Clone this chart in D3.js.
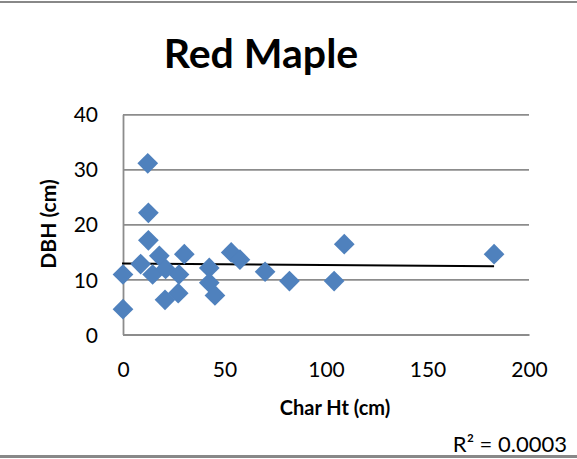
<!DOCTYPE html>
<html>
<head>
<meta charset="utf-8">
<script src="https://cdn.jsdelivr.net/npm/d3@7"></script>
<style>
  body { margin: 0; background: #fff; }
  text { font-family: Lato, "Open Sans", sans-serif; fill: #000; }
</style>
</head>
<body>
<svg></svg>
<script>
// DATA
let charHt = [12.2, 12.5, 12.5, 17.9, 30.2, 8.7, 0, 0, 14.6, 21, 27.6, 27.2, 20.7,
  42.5, 42.5, 45.3, 53.3, 57.6, 70, 82, 104, 109, 182.8]
let dbh = [31.1, 22.1, 17.1, 14.3, 14.6, 12.8, 10.9, 4.6, 10.9, 11.9, 10.9, 7.5, 6.3,
  12.1, 9.4, 7.1, 14.9, 13.6, 11.4, 9.7, 9.7, 16.4, 14.6]
let xTicks = [0, 50, 100, 150, 200]
let yTicks = [0, 10, 20, 30, 40]
let title = "Red Maple"
let xTitle = "Char Ht (cm)"
let yTitle = "DBH (cm)"
let r2Label = "R² = 0.0003"

let svgWidth = 577
let svgHeight = 459

// THE CONTAINER
let svg = d3.select("svg")
  .attr("width", svgWidth)
  .attr("height", svgHeight)

// chart border (top and bottom edges visible)
svg.append("line")
  .attr("x1", 0).attr("x2", svgWidth)
  .attr("y1", 2).attr("y2", 2)
  .attr("stroke", "#888").attr("stroke-width", 2)
svg.append("line")
  .attr("x1", 0).attr("x2", svgWidth)
  .attr("y1", 456.5).attr("y2", 456.5)
  .attr("stroke", "#888").attr("stroke-width", 3)

let plot = { left: 123, right: 529, top: 114.3, bottom: 334.5 }

// SCALE
let xScale = d3.scaleLinear()
  .domain([0, 200])
  .range([plot.left, plot.right])

let yScale = d3.scaleLinear()
  .domain([0, 40])
  .range([plot.bottom, plot.top])

// GRIDLINES
svg.append("g")
  .attr("transform", `translate(${plot.left}, 0)`)
  .call(d3.axisLeft(yScale).tickValues(yTicks).tickSize(-(plot.right - plot.left)).tickFormat(""))
  .call(g => g.select(".domain").remove())
  .selectAll("line")
  .attr("stroke", "#8c8c8c")
  .attr("stroke-width", 1.8)

// AXES
let yAxis = svg.append("g")
  .attr("transform", `translate(${plot.left}, 0)`)
  .call(d3.axisLeft(yScale).tickValues(yTicks).tickSize(0).tickPadding(25))
yAxis.select(".domain").attr("stroke", "#8c8c8c").attr("stroke-width", 1.8)
yAxis.selectAll("text")
  .style("font-family", "Lato, sans-serif")
  .style("font-size", "21px")
  .attr("dy", "0.36em")

let xAxis = svg.append("g")
  .attr("transform", `translate(0, ${plot.bottom})`)
  .call(d3.axisBottom(xScale).tickValues(xTicks).tickSize(0).tickPadding(25))
xAxis.select(".domain").attr("stroke", "#8c8c8c").attr("stroke-width", 1.8)
xAxis.selectAll("text")
  .style("font-family", "Lato, sans-serif")
  .style("font-size", "21px")
  .attr("dy", "0")
  .attr("y", 42)

// TREND LINE (least squares)
let mx = d3.mean(charHt)
let my = d3.mean(dbh)
let sxy = d3.sum(charHt, (d, i) => (d - mx) * (dbh[i] - my))
let sxx = d3.sum(charHt, d => (d - mx) * (d - mx))
let slope = sxy / sxx
let intercept = my - slope * mx
let xExt = d3.extent(charHt)

svg.append("line")
  .attr("x1", xScale(xExt[0]) - 1)
  .attr("x2", xScale(xExt[1]))
  .attr("y1", yScale(intercept + slope * xExt[0]))
  .attr("y2", yScale(intercept + slope * xExt[1]))
  .attr("stroke", "#000")
  .attr("stroke-width", 2)

// POINTS
let diamond = d3.symbol().type(d3.symbolSquare).size(215)
svg.selectAll(".pt")
  .data(charHt)
  .enter()
  .append("path")
  .attr("class", "pt")
  .attr("d", diamond)
  .attr("transform", (d, i) => `translate(${xScale(d)}, ${yScale(dbh[i])}) rotate(45)`)
  .attr("fill", "#4f81bd")

// TITLES
svg.append("text")
  .attr("x", 261)
  .attr("y", 68)
  .attr("text-anchor", "middle")
  .style("font-size", "41px")
  .style("font-weight", "bold")
  .text(title)

svg.append("text")
  .attr("x", 335)
  .attr("y", 415)
  .attr("text-anchor", "middle")
  .style("font-size", "20px")
  .style("font-weight", "bold")
  .text(xTitle)

svg.append("text")
  .attr("transform", "translate(56, 224) rotate(-90)")
  .attr("text-anchor", "middle")
  .style("font-size", "21px")
  .style("font-weight", "bold")
  .text(yTitle)

svg.append("text")
  .attr("x", 567)
  .attr("y", 452)
  .attr("text-anchor", "end")
  .style("font-size", "22px")
  .text(r2Label)
</script>
</body>
</html>
